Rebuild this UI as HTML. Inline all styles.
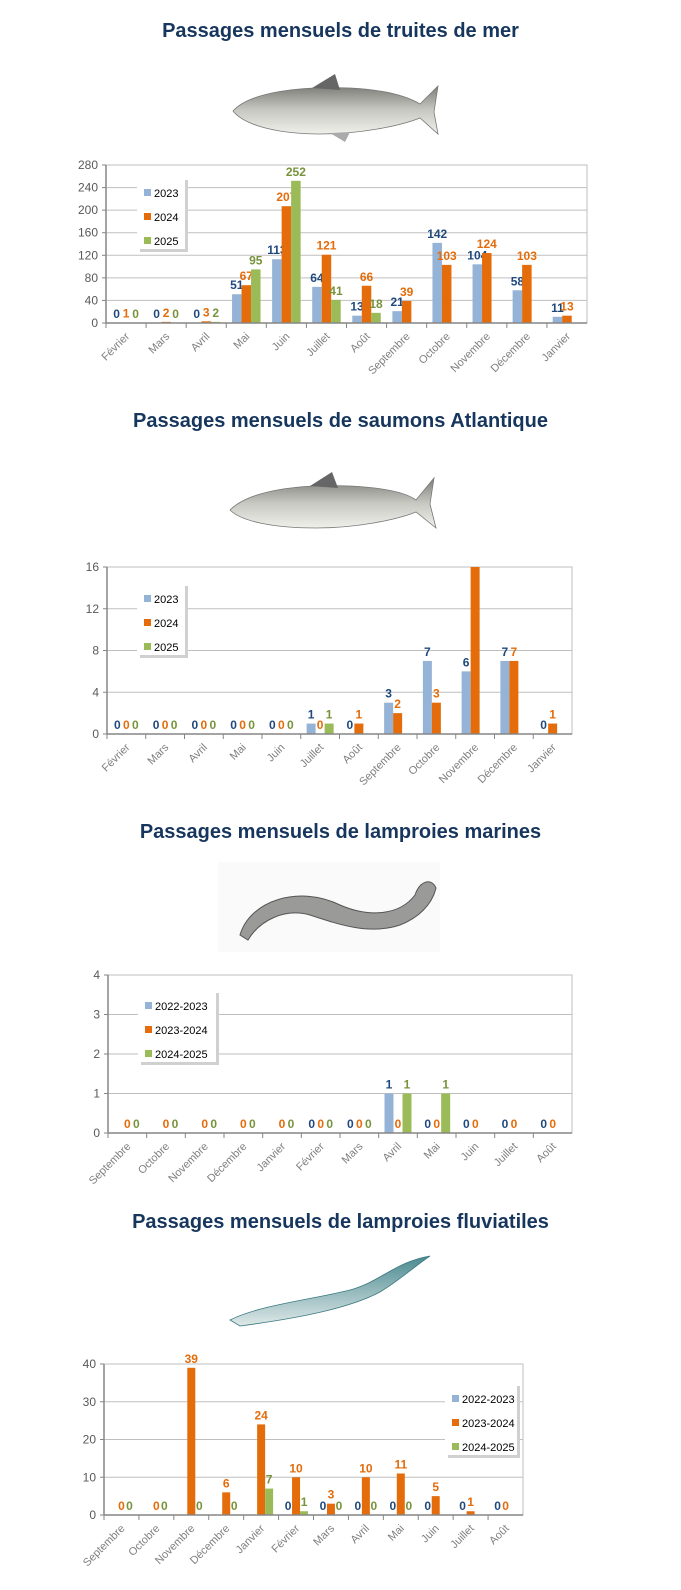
<!DOCTYPE html>
<html><head><meta charset="utf-8">
<style>
html,body{margin:0;padding:0;background:#fff;}
body{width:681px;height:1590px;overflow:hidden;position:relative;font-family:"Liberation Sans",sans-serif;}
.t{position:absolute;left:0;width:681px;text-align:center;font-weight:bold;font-size:20px;color:#17365d;}
svg{position:absolute;left:0;top:0;}
</style></head><body>
<div class="t" style="top:20px">Passages mensuels de truites de mer</div>
<div class="t" style="top:410px">Passages mensuels de saumons Atlantique</div>
<div class="t" style="top:821px">Passages mensuels de lamproies marines</div>
<div class="t" style="top:1211px">Passages mensuels de lamproies fluviatiles</div>
<svg id="s" width="681" height="1590" xmlns="http://www.w3.org/2000/svg">
<defs>
<linearGradient id="fg" x1="0" y1="0" x2="0" y2="1"><stop offset="0" stop-color="#7d7d78"/><stop offset="0.5" stop-color="#c8c8c2"/><stop offset="1" stop-color="#f0f0ea"/></linearGradient>
<linearGradient id="lg" x1="0" y1="0" x2="0" y2="1"><stop offset="0" stop-color="#4a8a90"/><stop offset="1" stop-color="#dfe8e8"/></linearGradient>
</defs>
<!-- fish 1 -->
<g>
<path d="M233,111 C250,92 300,86 350,88 C390,90 410,98 420,104 L438,86 L434,112 L438,134 L420,118 C400,126 360,134 320,134 C280,134 245,126 233,111 Z" fill="url(#fg)" stroke="#777" stroke-width="0.8"/>
<path d="M312,88 L335,74 L340,90 Z" fill="#666"/>
<path d="M330,133 L345,142 L350,132 Z" fill="#aaa"/>
</g>
<!-- fish 2 -->
<g>
<path d="M230,510 C250,490 300,484 350,486 C390,488 408,494 416,500 L434,478 L430,504 L436,528 L416,512 C396,520 356,528 316,528 C276,528 242,522 230,510 Z" fill="url(#fg)" stroke="#777" stroke-width="0.8"/>
<path d="M310,486 L332,472 L338,488 Z" fill="#666"/>
</g>
<!-- lamprey 3 -->
<rect x="218" y="862" width="222" height="90" fill="#fafafa"/>
<path d="M240,935 C250,900 300,885 340,905 C370,918 400,915 415,895 C420,880 432,878 436,888 C432,905 418,918 400,925 C370,935 340,925 310,915 C285,908 260,920 248,940 Z" fill="#9a9a98" stroke="#555" stroke-width="1"/>
<!-- lamprey 4 -->
<path d="M230,1320 C260,1305 310,1300 350,1290 C380,1282 395,1262 430,1256 C415,1266 400,1280 380,1292 C350,1308 300,1318 240,1326 Z" fill="url(#lg)" stroke="#3a7a80" stroke-width="0.8"/>
</svg>
<script>
const C=['#95b3d7','#e46c0a','#9bbb59'],L=['#1f497d','#e46c0a','#77933c'];
const s=document.getElementById('s');let h='';
function chart(o){
 const {l,r,t,b,max,step,months,data,leg,lx,ly,lw,bw}=o;
 const n=months.length,cw=(r-l)/n;
 h+=`<rect x="${l}" y="${t}" width="${r-l}" height="${b-t}" fill="none" stroke="#bfbfbf"/>`;
 for(let v=0;v<=max;v+=step){const y=b-(v/max)*(b-t);
  h+=`<line x1="${l}" x2="${r}" y1="${y}" y2="${y}" stroke="#bfbfbf"/>`;
  h+=`<line x1="${l-4}" x2="${l}" y1="${y}" y2="${y}" stroke="#868686"/>`;
  h+=`<text x="${l-8}" y="${y+4}" font-size="12" fill="#595959" text-anchor="end">${v}</text>`;}
 months.forEach((m,i)=>{const cx=l+cw*(i+0.5);
  h+=`<line x1="${l+cw*i}" x2="${l+cw*i}" y1="${b}" y2="${b+5}" stroke="#868686"/>`;
  h+=`<text transform="translate(${cx+4},${b+14}) rotate(-45)" font-size="11" fill="#7f7f7f" text-anchor="end">${m}</text>`;
  const d=data[i];
  d.forEach((v,k)=>{ if(v===null)return; const val=typeof v==='object'?v[0]:v;
   const x=cx-1.5*bw+k*bw; const hgt=(val/max)*(b-t); const y=b-hgt;
   if(val>0) h+=`<rect x="${x}" y="${y}" width="${bw}" height="${hgt}" fill="${C[k]}"/>`;
   if(!(typeof v==='object'&&v[1]===false)) h+=`<text x="${x+bw/2}" y="${y-5}" font-size="12" font-weight="bold" fill="${L[k]}" text-anchor="middle">${val}</text>`;
  });
 });
 h+=`<line x1="${l}" x2="${l}" y1="${t}" y2="${b}" stroke="#868686" stroke-width="1.5"/>`;
 h+=`<line x1="${l}" x2="${r}" y1="${b}" y2="${b}" stroke="#868686" stroke-width="1.5"/>`;
 h+=`<rect x="${lx+3}" y="${ly+3}" width="${lw}" height="72" fill="#d0d0d0"/>`;
 h+=`<rect x="${lx}" y="${ly}" width="${lw}" height="72" fill="#fff"/>`;
 leg.forEach((g,k)=>{const y=ly+12+k*24;
  h+=`<rect x="${lx+7}" y="${y}" width="7" height="7" fill="${C[k]}"/>`;
  h+=`<text x="${lx+17}" y="${y+8}" font-size="11" fill="#000">${g}</text>`;});
}
const m1=['Février','Mars','Avril','Mai','Juin','Juillet','Août','Septembre','Octobre','Novembre','Décembre','Janvier'];
const m3=['Septembre','Octobre','Novembre','Décembre','Janvier','Février','Mars','Avril','Mai','Juin','Juillet','Août'];
chart({l:106,r:587,t:165,b:323,max:280,step:40,months:m1,bw:9.5,
 data:[[0,1,0],[0,2,0],[0,3,2],[51,67,95],[113,207,252],[64,121,41],[13,66,18],[21,39,null],[142,103,null],[104,124,null],[58,103,null],[11,13,null]],
 leg:['2023','2024','2025'],lx:137,ly:177,lw:48});
chart({l:107,r:572,t:567,b:734,max:16,step:4,months:m1,bw:9,
 data:[[0,0,0],[0,0,0],[0,0,0],[0,0,0],[0,0,0],[1,0,1],[0,1,null],[3,2,null],[7,3,null],[6,[16,false],null],[7,7,null],[0,1,null]],
 leg:['2023','2024','2025'],lx:137,ly:583,lw:48});
chart({l:108,r:572,t:975,b:1133,max:4,step:1,months:m3,bw:9,
 data:[[null,0,0],[null,0,0],[null,0,0],[null,0,0],[null,0,0],[0,0,0],[0,0,0],[1,0,1],[0,0,1],[0,0,null],[0,0,null],[0,0,null]],
 leg:['2022-2023','2023-2024','2024-2025'],lx:138,ly:990,lw:78});
chart({l:104,r:523,t:1364,b:1515,max:40,step:10,months:m3,bw:8,
 data:[[null,0,0],[null,0,0],[null,39,0],[null,6,0],[null,24,7],[0,10,1],[0,3,0],[0,10,0],[0,11,0],[0,5,null],[0,1,null],[0,0,null]],
 leg:['2022-2023','2023-2024','2024-2025'],lx:445,ly:1383,lw:72});
s.insertAdjacentHTML('beforeend',h);
</script>
</body></html>
